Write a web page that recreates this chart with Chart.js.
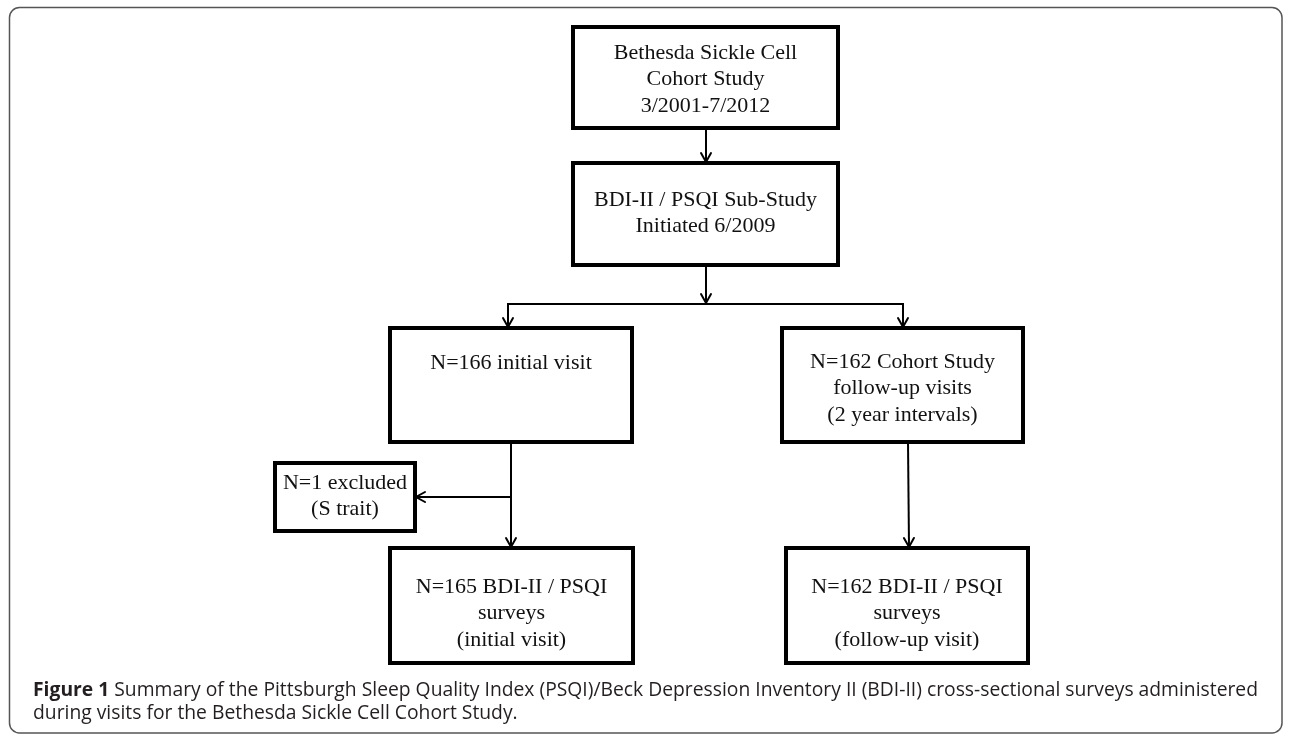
<!DOCTYPE html>
<html>
<head>
<meta charset="utf-8">
<script src="https://cdn.jsdelivr.net/npm/chart.js@4.4.1/dist/chart.umd.min.js"></script>
<style>
  html, body { margin: 0; padding: 0; background: #fff; }
  #flow { display: block; }
</style>
</head>
<body>
<canvas id="flow" width="1290" height="735"></canvas>
<script>
// Flowchart nodes (text lines + box edges in page units)
const nodeLines = [
  ["Bethesda Sickle Cell", "Cohort Study", "3/2001-7/2012"],
  ["BDI-II / PSQI Sub-Study", "Initiated 6/2009"],
  ["N=166 initial visit"],
  ["N=162 Cohort Study", "follow-up visits", "(2 year intervals)"],
  ["N=1 excluded", "(S trait)"],
  ["N=165 BDI-II / PSQI", "surveys", "(initial visit)"],
  ["N=162 BDI-II / PSQI", "surveys", "(follow-up visit)"]
];
const nodeLeft = [573, 573, 390, 782, 275, 390, 786];
const nodeRight = [838, 838, 632, 1023, 415, 633, 1028];
const nodeTop = [27, 163, 328, 328, 463, 548, 548];
const nodeBottom = [128, 265, 442, 442, 531, 663, 663];
const firstLineY = [53, 200, 363, 362, 483, 587, 587];

// Connectors, each one ends in an arrow head
const linkX = [
  [706, 706],
  [706, 706],
  [706, 508, 508],
  [706, 903, 903],
  [511, 511],
  [511, 416],
  [908, 909]
];
const linkY = [
  [128, 162],
  [265, 303],
  [304, 304, 327],
  [304, 304, 327],
  [442, 547],
  [497, 497],
  [442, 547]
];

const captionBold = "Figure 1";
const captionLine1 = " Summary of the Pittsburgh Sleep Quality Index (PSQI)/Beck Depression Inventory II (BDI-II) cross-sectional surveys administered";
const captionLine2 = "during visits for the Bethesda Sickle Cell Cohort Study.";

// build datasets
const datasets = [];
nodeLines.forEach((_, i) => {
  datasets.push({
    data: [
      { x: nodeLeft[i], y: nodeTop[i] },
      { x: nodeRight[i], y: nodeTop[i] },
      { x: nodeRight[i], y: nodeBottom[i] },
      { x: nodeLeft[i], y: nodeBottom[i] },
      { x: nodeLeft[i], y: nodeTop[i] }
    ],
    showLine: true,
    borderColor: "#000",
    borderWidth: 4,
    borderJoinStyle: "miter",
    borderCapStyle: "square",
    pointRadius: 0,
    fill: false
  });
});
linkX.forEach((xs, i) => {
  datasets.push({
    data: xs.map((x, j) => ({ x: x, y: linkY[i][j] })),
    showLine: true,
    borderColor: "#000",
    borderWidth: 2,
    borderJoinStyle: "miter",
    pointRadius: 0,
    fill: false
  });
});

const flowPlugin = {
  id: "flow",
  beforeDraw(chart) {
    const ctx = chart.ctx;
    const sx = chart.scales.x, sy = chart.scales.y;
    // outer rounded frame
    ctx.save();
    ctx.strokeStyle = "#555";
    ctx.lineWidth = 1.5;
    ctx.beginPath();
    ctx.roundRect(sx.getPixelForValue(9.5), sy.getPixelForValue(7.5),
      sx.getPixelForValue(1282) - sx.getPixelForValue(9.5),
      sy.getPixelForValue(733) - sy.getPixelForValue(7.5), 10);
    ctx.stroke();
    ctx.restore();
  },
  afterDatasetsDraw(chart) {
    const ctx = chart.ctx;
    const sx = chart.scales.x, sy = chart.scales.y;
    ctx.save();
    // arrow heads
    ctx.strokeStyle = "#000";
    ctx.lineWidth = 2;
    ctx.lineCap = "round";
    linkX.forEach((xs, i) => {
      const n = xs.length;
      const x1 = sx.getPixelForValue(xs[n - 2]), y1 = sy.getPixelForValue(linkY[i][n - 2]);
      const x2 = sx.getPixelForValue(xs[n - 1]), y2 = sy.getPixelForValue(linkY[i][n - 1]);
      const a = Math.atan2(y2 - y1, x2 - x1);
      const len = 9, half = 5;
      ctx.beginPath();
      ctx.moveTo(x2 - len * Math.cos(a) + half * Math.sin(a), y2 - len * Math.sin(a) - half * Math.cos(a));
      ctx.lineTo(x2, y2);
      ctx.lineTo(x2 - len * Math.cos(a) - half * Math.sin(a), y2 - len * Math.sin(a) + half * Math.cos(a));
      ctx.stroke();
    });
    // box texts
    ctx.fillStyle = "#111";
    ctx.font = "22px 'Liberation Serif', 'Times New Roman', serif";
    ctx.textAlign = "center";
    ctx.textBaseline = "middle";
    nodeLines.forEach((lines, i) => {
      const cx = sx.getPixelForValue((nodeLeft[i] + nodeRight[i]) / 2);
      lines.forEach((t, j) => {
        ctx.fillText(t, cx, sy.getPixelForValue(firstLineY[i] + j * 26.5));
      });
    });
    // caption (condensed to the reference width)
    ctx.fillStyle = "#231f20";
    ctx.textAlign = "left";
    const bold = "bold 20px 'Open Sans', sans-serif";
    const reg = "20px 'Open Sans', sans-serif";
    ctx.font = bold;
    const wb = ctx.measureText(captionBold).width;
    ctx.font = reg;
    const w1 = ctx.measureText(captionLine1).width;
    const x0 = sx.getPixelForValue(33);
    const scale = (sx.getPixelForValue(1258) - x0) / (wb + w1);
    ctx.save();
    ctx.translate(x0, 0);
    ctx.scale(scale, 1);
    ctx.font = bold;
    ctx.fillText(captionBold, 0, sy.getPixelForValue(690));
    ctx.font = reg;
    ctx.fillText(captionLine1, wb, sy.getPixelForValue(690));
    ctx.fillText(captionLine2, 0, sy.getPixelForValue(713));
    ctx.restore();
    ctx.restore();
  }
};

new Chart(document.getElementById("flow"), {
  type: "scatter",
  data: { datasets: datasets },
  options: {
    responsive: false,
    animation: false,
    devicePixelRatio: 1,
    layout: { padding: 0 },
    plugins: { legend: { display: false }, tooltip: { enabled: false } },
    scales: {
      x: { type: "linear", min: 0, max: 1290, display: false },
      y: { type: "linear", min: 0, max: 735, reverse: true, display: false }
    }
  },
  plugins: [flowPlugin]
});
</script>
</body>
</html>
